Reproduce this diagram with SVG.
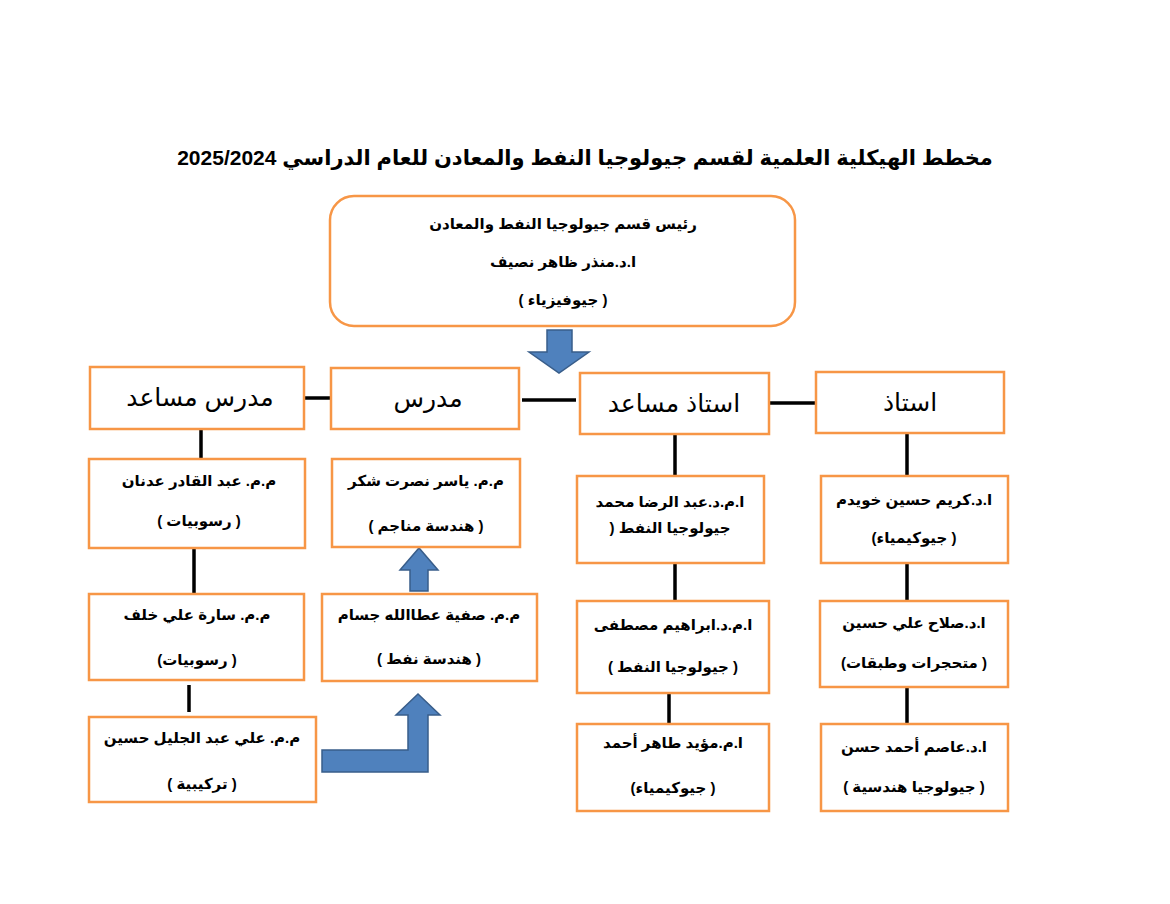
<svg xmlns="http://www.w3.org/2000/svg" width="1170" height="904" viewBox="0 0 1170 904">
<style>
.box{fill:#fff;stroke:#F79646;stroke-width:2.5}
.ln{stroke:#000;stroke-width:3.5;fill:none}
.arr{fill:#4F81BD;stroke:#385D8A;stroke-width:1.5}
text{font-family:"Liberation Sans","DejaVu Sans",sans-serif;fill:#000;text-anchor:middle;direction:rtl}
.t{font-size:15px;font-weight:bold}
.h{font-size:25px}
.title{font-size:21px;font-weight:bold}
</style>
<rect width="1170" height="904" fill="#fff"/>
<text class="title" x="585" y="165">مخطط الهيكلية العلمية لقسم جيولوجيا النفط والمعادن للعام الدراسي 2025/2024</text>

<g id="connectors">
<line class="ln" x1="304" y1="398" x2="331" y2="398"/>
<line class="ln" x1="522" y1="400" x2="576" y2="400"/>
<line class="ln" x1="769" y1="403" x2="817" y2="403"/>
<line class="ln" x1="201" y1="429" x2="201" y2="459"/>
<line class="ln" x1="194" y1="548" x2="194" y2="594"/>
<line class="ln" x1="189" y1="685" x2="189" y2="712"/>
<line class="ln" x1="675" y1="434" x2="675" y2="476"/>
<line class="ln" x1="675" y1="563" x2="675" y2="601"/>
<line class="ln" x1="669" y1="693" x2="669" y2="724"/>
<line class="ln" x1="907" y1="433" x2="907" y2="476"/>
<line class="ln" x1="907" y1="563" x2="907" y2="601"/>
<line class="ln" x1="907" y1="687" x2="907" y2="724"/>
<polygon class="arr" points="547,330 572,330 572,352 589,352 559,373 529,352 547,352"/>
<polygon class="arr" points="410,591 428,591 428,570 438,570 419,548 400,570 410,570"/>
<polygon class="arr" points="322,750 408,750 408,715 396,715 418,694 440,715 428,715 428,772 322,772"/>
</g>

<g id="head">
<rect class="box" x="330" y="196" width="465" height="130" rx="24"/>
<text class="t" x="563" y="229">رئيس قسم جيولوجيا النفط والمعادن</text>
<text class="t" x="563" y="267">ا.د.منذر ظاهر نصيف</text>
<text class="t" x="563" y="305">( جيوفيزياء )</text>
</g>

<g id="h-assistant-lecturer">
<rect class="box" x="90" y="367" width="214" height="62"/>
<text class="h" x="200" y="406">مدرس مساعد</text>
</g>
<g id="h-lecturer">
<rect class="box" x="331" y="368" width="188" height="61"/>
<text class="h" x="428" y="407">مدرس</text>
</g>
<g id="h-assistant-professor">
<rect class="box" x="580" y="373" width="189" height="61"/>
<text class="h" x="674" y="412">استاذ مساعد</text>
</g>
<g id="h-professor">
<rect class="box" x="816" y="372" width="188" height="61"/>
<text class="h" x="910" y="411">استاذ</text>
</g>

<g id="n-abdulqader">
<rect class="box" x="89" y="459" width="216" height="89"/>
<text class="t" x="199" y="486">م.م. عبد القادر عدنان</text>
<text class="t" x="199" y="526">( رسوبيات )</text>
</g>
<g id="n-sara">
<rect class="box" x="89" y="594" width="215" height="86"/>
<text class="t" x="197" y="620">م.م. سارة علي خلف</text>
<text class="t" x="197" y="665">( رسوبيات)</text>
</g>
<g id="n-ali">
<rect class="box" x="89" y="717" width="227" height="85"/>
<text class="t" x="202" y="743">م.م. علي عبد الجليل حسين</text>
<text class="t" x="202" y="789">( تركيبية )</text>
</g>

<g id="n-yaser">
<rect class="box" x="332" y="459" width="188" height="88"/>
<text class="t" x="426" y="486">م.م. ياسر نصرت شكر</text>
<text class="t" x="426" y="531">( هندسة مناجم )</text>
</g>
<g id="n-safia">
<rect class="box" x="322" y="594" width="215" height="87"/>
<text class="t" x="429" y="620">م.م. صفية عطاالله جسام</text>
<text class="t" x="429" y="664">( هندسة نفط )</text>
</g>

<g id="n-abdulridha">
<rect class="box" x="577" y="476" width="187" height="87"/>
<text class="t" x="670" y="507">ا.م.د.عبد الرضا محمد</text>
<text class="t" x="670" y="533">جيولوجيا النفط (</text>
</g>
<g id="n-ibrahim">
<rect class="box" x="577" y="601" width="192" height="92"/>
<text class="t" x="673" y="630">ا.م.د.ابراهيم مصطفى</text>
<text class="t" x="673" y="672">( جيولوجيا النفط )</text>
</g>
<g id="n-moayad">
<rect class="box" x="577" y="724" width="192" height="87"/>
<text class="t" x="673" y="748">ا.م.مؤيد طاهر أحمد</text>
<text class="t" x="673" y="793">( جيوكيمياء)</text>
</g>

<g id="n-kareem">
<rect class="box" x="821" y="476" width="187" height="87"/>
<text class="t" x="914" y="505">ا.د.كريم حسين خويدم</text>
<text class="t" x="914" y="543">( جيوكيمياء)</text>
</g>
<g id="n-salah">
<rect class="box" x="820" y="601" width="188" height="86"/>
<text class="t" x="914" y="628">ا.د.صلاح علي حسين</text>
<text class="t" x="914" y="668">( متحجرات وطبقات)</text>
</g>
<g id="n-asim">
<rect class="box" x="821" y="724" width="187" height="87"/>
<text class="t" x="914" y="752">ا.د.عاصم أحمد حسن</text>
<text class="t" x="914" y="792">( جيولوجيا هندسية )</text>
</g>
</svg>
